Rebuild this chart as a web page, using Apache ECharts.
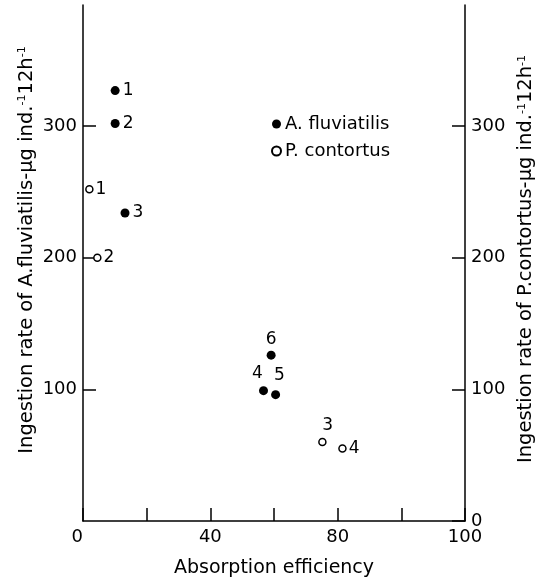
<!DOCTYPE html>
<html>
<head>
<meta charset="utf-8">
<script src="https://cdn.jsdelivr.net/npm/echarts@6/dist/echarts.min.js"></script>
<style>
  html, body { margin: 0; padding: 0; background: #fff; }
  #chart { width: 535px; height: 581px; }
</style>
</head>
<body>
<div id="chart"></div>
<script>
// data
const fluviatilisX = [10.1, 10.1, 13.2, 56.7, 60.5, 59.1];
const fluviatilisY = [327, 302, 234, 99, 96, 126];
const fluviatilisIds = ["1", "2", "3", "4", "5", "6"];

const contortusX = [2.0, 4.5, 75.2, 81.5];
const contortusY = [252, 200, 60, 55];
const contortusIds = ["1", "2", "3", "4"];

// the original axis has ticks every 20 but its last label reads "100"
const xTickLabels = { 0: "0", 40: "40", 80: "80", 120: "100" };
const yTicks = ["0", "100", "200", "300"];

const font = "DejaVu Sans";
const ink = "#000";

const labelPosA = ["right", "right", "right", [-7, -21], [3, -23], "top"];
const labelPosP = ["right", "right", [4, -21], "right"];

function points(xs, ys, ids, pos) {
  return xs.map(function (x, i) {
    return {
      value: [x, ys[i]],
      name: ids[i],
      label: { position: pos[i] }
    };
  });
}

const sup = { fontSize: 11, verticalAlign: "top", padding: [0, 0, 9, 0], fontFamily: font, color: ink };

function yAxis(pos, nameText) {
  const left = pos === "left";
  return {
    type: "value",
    position: pos,
    min: 0,
    max: 392,
    interval: 100,
    name: nameText,
    nameLocation: "middle",
    nameMoveOverlap: !left,
    nameGap: left ? 46 : 45,
    nameRotate: 90,
    nameTextStyle: {
      fontFamily: font, fontSize: 19.5, color: ink,
      padding: left ? [0, 0, 0, 26] : [0, 0, 0, 8],
      rich: { sup: sup }
    },
    axisLine: { show: true, lineStyle: { color: ink, width: 1.5 } },
    axisTick: { show: true, inside: true, length: 13, lineStyle: { color: ink, width: 1.5 } },
    axisLabel: {
      fontFamily: font, fontSize: 18, color: ink, margin: 6,
      showMaxLabel: false,
      showMinLabel: !left,
      formatter: function (v) { return yTicks[v / 100] || ""; }
    },
    splitLine: { show: false }
  };
}

const options = {
  animation: false,
  backgroundColor: "#fff",
  grid: { left: 83, right: 70, top: 5, bottom: 60, containLabel: false, outerBoundsMode: "none" },
  legend: {
    orient: "vertical",
    left: 266,
    top: 110,
    itemGap: 9,
    itemWidth: 9,
    itemHeight: 9,
    textStyle: { fontFamily: font, fontSize: 18, color: ink, padding: [0, 0, 0, -1] },
    data: ["A. fluviatilis", "P. contortus"]
  },
  xAxis: {
    type: "value",
    min: 0,
    max: 120,
    interval: 20,
    name: "Absorption efficiency",
    nameLocation: "middle",
    nameGap: 38,
    nameTextStyle: { fontFamily: font, fontSize: 19, color: ink },
    axisLine: { lineStyle: { color: ink, width: 1.5 } },
    axisTick: { inside: true, length: 13, lineStyle: { color: ink, width: 1.5 } },
    axisLabel: {
      fontFamily: font, fontSize: 18, color: ink, margin: 7,
      alignMinLabel: "right",
      formatter: function (v) { return xTickLabels[v] || ""; }
    },
    splitLine: { show: false }
  },
  yAxis: [
    yAxis("left", "Ingestion rate of A.fluviatilis-\u00b5g ind.{sup|-1}12h{sup|-1}"),
    yAxis("right", "Ingestion rate of P.contortus-\u00b5g ind.{sup|-1}12h{sup|-1}")
  ],
  series: [
    {
      name: "A. fluviatilis",
      type: "scatter",
      yAxisIndex: 0,
      symbol: "circle",
      symbolSize: 9,
      itemStyle: { color: ink, opacity: 1 },
      label: {
        show: true, formatter: "{b}", distance: 3,
        fontFamily: font, fontSize: 17, color: ink
      },
      data: points(fluviatilisX, fluviatilisY, fluviatilisIds, labelPosA)
    },
    {
      name: "P. contortus",
      type: "scatter",
      yAxisIndex: 1,
      symbol: "circle",
      symbolSize: 7,
      itemStyle: { color: "#fff", borderColor: ink, borderWidth: 1.5, opacity: 1 },
      label: {
        show: true, formatter: "{b}", distance: 2,
        fontFamily: font, fontSize: 17, color: ink
      },
      data: points(contortusX, contortusY, contortusIds, labelPosP)
    }
  ]
};

document.addEventListener("DOMContentLoaded", function () {
  const chart = echarts.init(document.getElementById("chart"));
  chart.setOption(options);
});
</script>
</body>
</html>
